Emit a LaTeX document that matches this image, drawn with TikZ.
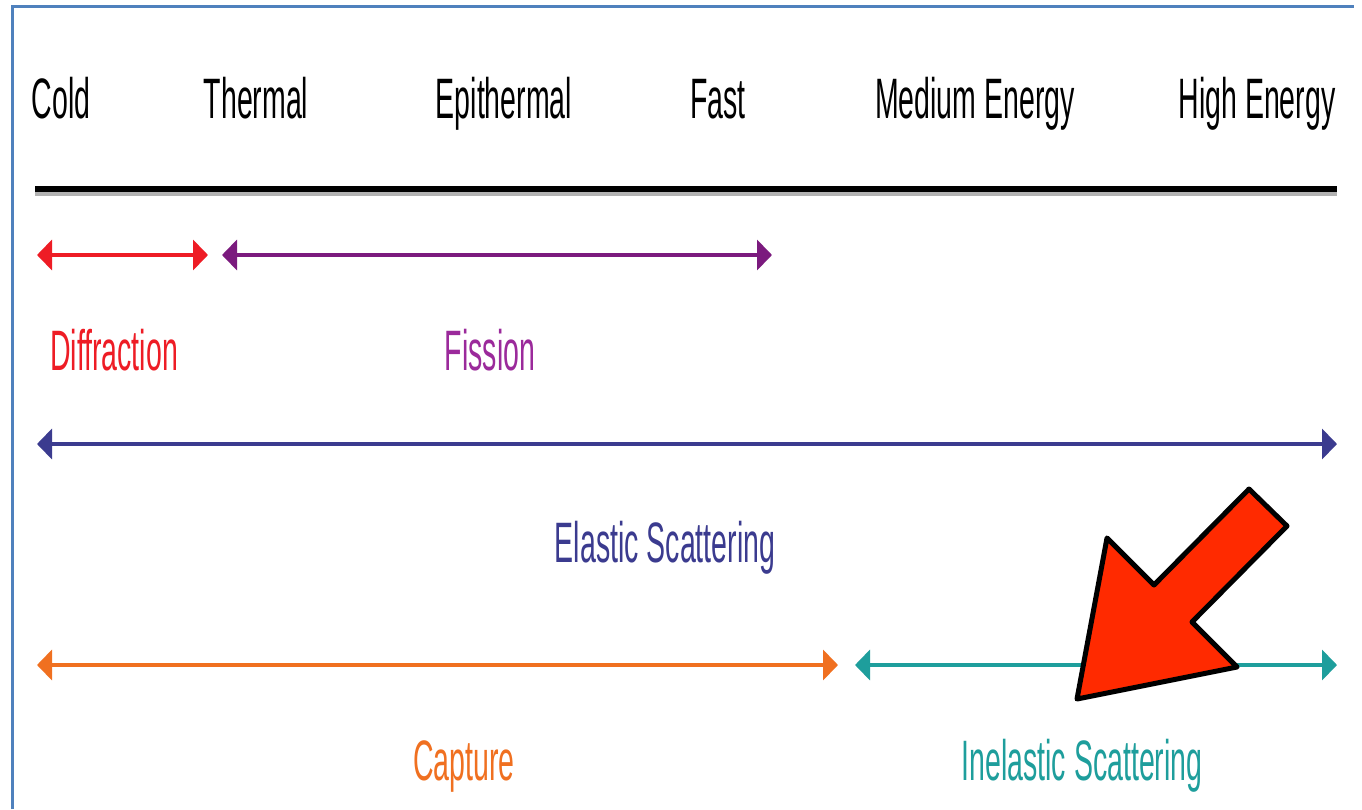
\documentclass[tikz,border=0pt]{standalone}
\usepackage{fontspec}
\setmainfont{Liberation Sans}[FakeStretch=0.5]
\usetikzlibrary{arrows.meta}
\definecolor{cred}{HTML}{EE1C25}
\definecolor{cpurple}{HTML}{7B1A7E}
\definecolor{cfis}{HTML}{9B2A9B}
\definecolor{cblue}{HTML}{3B3B8F}
\definecolor{corange}{HTML}{F07020}
\definecolor{cteal}{HTML}{1E9E9C}
\definecolor{cframe}{HTML}{4F81BD}
\definecolor{cbig}{HTML}{FF2A00}
\tikzset{
  lbl/.style={inner sep=0pt, anchor=base, font=\fontsize{57}{60}\selectfont},
  spanarrow/.style={line width=4pt, {Triangle[length=15pt,width=30pt]}-{Triangle[length=15pt,width=30pt]}},
}
\begin{document}
\begin{tikzpicture}[x=1pt,y=-1pt]
\useasboundingbox (0,0) rectangle (1362,809);
\fill[white] (0,0) rectangle (1362,809);
% frame
\draw[cframe, line width=3pt] (12,809) -- (12,6) -- (1354,6);
% header labels
\node[lbl] (cold) at (61,118) {Cold};
\node[lbl] (thermal) at (256,118) {Thermal};
\node[lbl] (epi) at (504,118) {Epithermal};
\node[lbl] (fast) at (718,118) {Fast};
\node[lbl] (med) at (975,118) {Medium Energy};
\node[lbl] (high) at (1257,118) {High Energy};
% axis line
\draw[gray!60, line width=6pt] (35,193) -- (1337,193);
\draw[black, line width=6pt] (35,189) -- (1337,189);
% coordinates
\coordinate (d1) at (37,255); \coordinate (d2) at (208,255);
\coordinate (f1) at (222,255); \coordinate (f2) at (772,255);
\coordinate (e1) at (37,444); \coordinate (e2) at (1337,444);
\coordinate (c1) at (37,665); \coordinate (c2) at (838,665);
\coordinate (i1) at (855,665); \coordinate (i2) at (1337,665);
\draw[spanarrow, cred] (d1) -- (d2);
\draw[spanarrow, cpurple] (f1) -- (f2);
\draw[spanarrow, cblue] (e1) -- (e2);
\draw[spanarrow, corange] (c1) -- (c2);
\draw[spanarrow, cteal] (i1) -- (i2);
% labels
\node[lbl, text=cred] (diff) at (114,370) {Diffraction};
\node[lbl, text=cfis] (fis) at (490,370) {Fission};
\node[lbl, text=cblue] (ela) at (665,562) {Elastic Scattering};
\node[lbl, text=corange] (cap) at (464,780) {Capture};
\node[lbl, text=cteal] (inel) at (1082,780) {Inelastic Scattering};
% big pointer arrow
\draw[fill=cbig, draw=black, line width=5pt, line join=round]
  (1077,699) -- (1107,538) -- (1154,585) -- (1249,489) -- (1287,526)
  -- (1192,622) -- (1237,667) -- cycle;
\end{tikzpicture}
\end{document}
